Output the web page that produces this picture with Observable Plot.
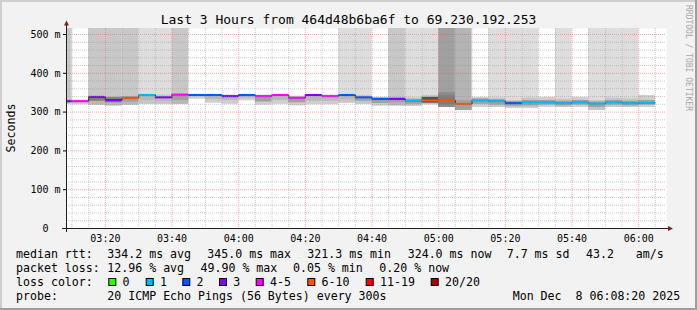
<!DOCTYPE html>
<html><head><meta charset="utf-8">
<script src="https://cdn.jsdelivr.net/npm/d3@7"></script>
<script src="https://cdn.jsdelivr.net/npm/@observablehq/plot@0.6"></script>
<style>
html,body{margin:0;padding:0;background:#f2f2f2;}
#chart{width:697px;height:310px;overflow:hidden;}
svg text{font-family:"DejaVu Sans Mono",monospace;}
</style></head><body><div id="chart"></div>
<script>
// ---- data (5-minute steps, labelled by end time) ----
const times = ["03:10","03:15","03:20","03:25","03:30","03:35","03:40","03:45","03:50","03:55",
  "04:00","04:05","04:10","04:15","04:20","04:25","04:30","04:35","04:40","04:45",
  "04:50","04:55","05:00","05:05","05:10","05:15","05:20","05:25","05:30","05:35",
  "05:40","05:45","05:50","05:55","06:00","06:05"];
const median = [328,328,339,331,337,344,338,345,344,344, 341,344,341,344,337,344,341,344,338,334,
  334,329,330,330,321.3,330,328,323,325,325, 323,325,322,325,323,324];
const lossIdx = [3,4,3,3,5,1,3,4,2,2, 3,2,4,4,4,3,4,2,2,2, 3,1,5,5,5,1,1,2,1,1, 1,1,1,1,1,1];
const bandLevel = [2,0,2,2,2,1,1,2,0,0, 0,0,0,0,0,0,0,1,1,0, 2,1,1,4,3,0,1,1,1,0, 1,0,1,1,1,0];
const smokeLo = [321,319,318,316,318,320,320,320,333,323, 320,329,318,320,316,319,319,323,320,315,
  316,315,319,312,304,312,312,310,310,312, 312,312,304,312,312,312];
const smokeHi = [332,331,342,340,340,346,344,347,346,346, 344,346,344,346,341,346,344,346,343,338,
  338,336,343,350,330,338,336,330,336,338, 333,338,330,336,334,343];
const coreLo = [325,324,328,324,326,330,328,330,340,332, 330,336,326,330,324,328,328,332,328,322,
  324,320,323,318,310,320,318,315,316,318, 316,318,312,318,316,318];
const coreHi = [331,330,340,337,339,344,340,345,345,344, 342,345,342,345,338,345,342,345,340,336,
  336,333,338,342,326,334,332,327,330,330, 328,330,326,330,328,330];
const coreLevel = [1,1,3,3,2,1,1,2,1,1, 1,1,2,1,2,1,1,1,2,2, 2,2,4,3,2,2,2,2,2,2, 2,2,2,2,2,2];

const xTickLabels = ["03:20","03:40","04:00","04:20","04:40","05:00","05:20","05:40","06:00"];
const yTickValues = [0,100,200,300,400,500];
const lossColors = ["#26ff00","#00b8ff","#0059ff","#7e00ff","#ff00ff","#ff5500","#ff0000","#a00000"];
const lossLabels = ["0","1","2","3","4-5","6-10","11-19","20/20"];
const bandColors = [null,"#dddddd","#c8c8c8","#b4b4b4","#a0a0a0"];
const smokeColors = ["#cfcfcf","#c6c6c6","#b8b8b8","#a4a4a4","#8c8c8c"];
const coreColors = [null,"#b8b8b8","#a0a0a0","#7c7c7c","#555555"];

const title = "Last 3 Hours from 464d48b6ba6f to 69.230.192.253";
const yLabel = "Seconds";
const credit = "RRDTOOL / TOBI OETIKER";
const stampText = "Mon Dec  8 06:08:20 2025";

// ---- build ----
const day = "2025-12-08";
const at = s => new Date(`${day}T${s.length === 5 ? s + ":00" : s}Z`);
const t0 = at("03:08:20"), t1 = at("06:08:20");
const STEP = 300000;
const yTop = 515.46;

const rows = times.map((t, i) => {
  const end = at(t);
  return {start: new Date(Math.max(+end - STEP, +t0)), end, med: median[i], loss: lossIdx[i],
    band: bandLevel[i], lo: smokeLo[i], hi: smokeHi[i], cLo: coreLo[i], cHi: coreHi[i], core: coreLevel[i]};
});
const last = rows[rows.length - 1];
const stepPts = rows.map(d => ({t: d.start, v: d.med})).concat([{t: last.end, v: last.med}]);

const xMajor = xTickLabels.map(at);
const xMinor = d3.utcMinute.every(5).range(at("03:10"), t1).filter(d => d.getUTCMinutes() % 20 !== 0);
const yMajor = yTickValues.filter(v => v > 0);
const yMinor = d3.range(20, yTop, 20).filter(v => v % 100 !== 0);

const plot = Plot.plot({
  width: 697, height: 310,
  marginLeft: 66, marginRight: 31, marginTop: 28, marginBottom: 82,
  style: {background: "#f2f2f2", fontFamily: "DejaVu Sans Mono, monospace", fontSize: "10px", color: "black", overflow: "visible"},
  x: {type: "utc", domain: [t0, t1], ticks: xMajor, tickFormat: d3.utcFormat("%H:%M"), tickSize: 0, tickPadding: 6, label: null},
  y: {domain: [0, yTop], ticks: yTickValues, tickFormat: d => d === 0 ? "0\u00a0\u00a0" : `${d} m`, tickSize: 3, tickPadding: 3, label: null},
  marks: [
    Plot.frame({fill: "white", stroke: "none"}),
    Plot.rectY(rows.filter(d => d.band > 0), {x1: "start", x2: "end", y1: "lo", y2: () => yTop, fill: d => bandColors[d.band]}),
    Plot.rectY(rows, {x1: "start", x2: "end", y1: "lo", y2: "hi", fill: d => smokeColors[d.band]}),
    Plot.rectY(rows, {x1: "start", x2: "end", y1: "cLo", y2: "cHi", fill: d => coreColors[d.core]}),
    Plot.line(stepPts, {x: "t", y: "v", curve: "step-after", stroke: "#202020", strokeWidth: 1}),
    Plot.ruleY(rows, {y: "med", x1: "start", x2: "end", stroke: d => lossColors[d.loss], strokeWidth: 2}),
    Plot.ruleY(yMinor, {stroke: "#8f8f8f", strokeOpacity: 0.45, strokeDasharray: "1,1"}),
    Plot.ruleX(xMinor, {stroke: "#8f8f8f", strokeOpacity: 0.45, strokeDasharray: "1,1"}),
    Plot.ruleY(yMajor, {stroke: "#de4f4f", strokeOpacity: 0.45, strokeDasharray: "1,1"}),
    Plot.ruleX(xMajor, {stroke: "#de4f4f", strokeOpacity: 0.45, strokeDasharray: "1,1"})
  ]
});
document.getElementById("chart").append(plot);

// ---- decorations ----
const xs = plot.scale("x"), ys = plot.scale("y");
const X0 = xs.apply(t0), X1 = xs.apply(t1), Y0 = ys.apply(0), Y1 = ys.apply(yTop);
const svg = d3.select(plot);
const deco = svg.append("g");
deco.append("path").attr("d", `M${X0 - 4},${Y0 + 0.5}H${X1 + 2}`).attr("stroke", "#1f1f1f").attr("fill", "none");
deco.append("path").attr("d", `M${X0 + 0.5},${Y0 + 4}V${Y1 - 3}`).attr("stroke", "#1f1f1f").attr("fill", "none");
deco.append("polygon").attr("points", `${X1 + 2},${Y0 - 2} ${X1 + 2},${Y0 + 3} ${X1 + 7},${Y0 + 0.5}`).attr("fill", "#801f1f");
deco.append("polygon").attr("points", `${X0 - 2},${Y1 - 2.5} ${X0 + 3},${Y1 - 2.5} ${X0 + 0.5},${Y1 - 7.5}`).attr("fill", "#801f1f");

// border shading
deco.append("rect").attr("x", 0).attr("y", 0).attr("width", 697).attr("height", 2).attr("fill", "#cfcfcf");
deco.append("rect").attr("x", 0).attr("y", 0).attr("width", 2).attr("height", 310).attr("fill", "#cfcfcf");
deco.append("rect").attr("x", 0).attr("y", 308).attr("width", 697).attr("height", 2).attr("fill", "#9e9e9e");
deco.append("rect").attr("x", 695).attr("y", 0).attr("width", 2).attr("height", 310).attr("fill", "#9e9e9e");

const txt = (x, y, s, size, opts = {}) => {
  const t = deco.append("text").attr("x", x).attr("y", y).attr("font-size", size)
    .attr("fill", opts.fill || "black").attr("text-anchor", opts.anchor || "start")
    .attr("xml:space", "preserve").style("white-space", "pre").text(s);
  if (opts.transform) t.attr("transform", opts.transform).attr("x", 0).attr("y", 0);
  return t;
};
txt(348.5, 24, title, "13px", {anchor: "middle"});
txt(0, 0, yLabel, "11.6px", {anchor: "middle", transform: `translate(15,${(Y0 + Y1) / 2}) rotate(-90)`});
txt(0, 0, credit, "8px", {fill: "#a8a8a8", transform: `translate(685.5,5) rotate(90)`});

const L = [258.3, 272, 285.8, 299.7];
const fs = "11.6px";
[[16,"median rtt:"],[107.3,"334.2 ms avg"],[207.3,"345.0 ms max"],[307.3,"321.3 ms min"],
 [407.7,"324.0 ms now"],[506.7,"7.7 ms sd"],[586,"43.2"],[635.7,"am/s"]].forEach(([x,s]) => txt(x, L[0], s, fs));
[[16,"packet loss:"],[107.3,"12.96 % avg"],[200.5,"49.90 % max"],[293,"0.05 % min"],[379.3,"0.20 % now"]]
  .forEach(([x,s]) => txt(x, L[1], s, fs));
txt(16, L[2], "loss color:", fs);
const boxX = [108.3,145.7,182.3,219,255.7,307.3,365.7,430.7];
lossLabels.forEach((lab, i) => {
  deco.append("rect").attr("x", boxX[i] + 0.5).attr("y", 278.5).attr("width", 7).attr("height", 7)
    .attr("fill", lossColors[i]).attr("stroke", "black");
  txt(boxX[i] + 14.3, L[2], lab, fs);
});
txt(16, L[3], "probe:", fs);
txt(107.3, L[3], "20 ICMP Echo Pings (56 Bytes) every 300s", fs);
txt(512.7, L[3], stampText, fs);
</script></body></html>
